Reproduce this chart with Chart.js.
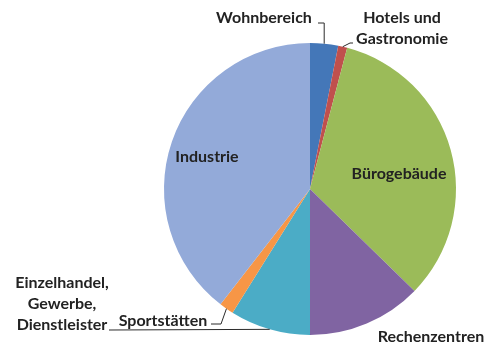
<!DOCTYPE html>
<html>
<head>
<meta charset="utf-8">
<script src="https://cdn.jsdelivr.net/npm/chart.js@4.4.1/dist/chart.umd.min.js"></script>
<style>
  html, body { margin: 0; padding: 0; background: #ffffff; }
  #wrap { width: 485px; height: 348px; }
</style>
</head>
<body>
<div id="wrap"><canvas id="pie" width="485" height="348"></canvas></div>
<script>
// Sectors, clockwise from 12 o'clock
const sectors = [
  'Wohnbereich',
  'Hotels und Gastronomie',
  'Bürogebäude',
  'Rechenzentren',
  'Einzelhandel, Gewerbe, Dienstleister',
  'Sportstätten',
  'Industrie'
];
// Share of each sector (%)
const shares = [3.1, 1.0, 33.2, 12.7, 8.9, 1.6, 39.5];

const sliceColors = ['#4477b8', '#c0504d', '#9bbb59', '#8064a2', '#4bacc6', '#f79646', '#93aad9'];

// Label placement: text lines, centre, optional leader line (start + elbow)
const labelLayout = [
  { lines: ['Wohnbereich'], x: 264, y: 18, leader: { start: [318, 23], elbow: 'x' } },
  { lines: ['Hotels und', 'Gastronomie'], x: 402, y: 18, leader: { start: [353, 43], elbow: [350, 43] } },
  { lines: ['Bürogebäude'], x: 399, y: 174 },
  { lines: ['Rechenzentren'], x: 431, y: 337 },
  { lines: ['Einzelhandel,', 'Gewerbe,', 'Dienstleister'], x: 62, y: 283, leader: { start: [109, 330], elbow: null } },
  { lines: ['Sportstätten'], x: 163, y: 321, leader: { start: [211, 324], elbow: [221, 324] } },
  { lines: ['Industrie'], x: 207, y: 157 }
];

const FONT = 'bold 16px Lato, "Open Sans", sans-serif';
const LINE_H = 21;

const sliceLabels = {
  id: 'sliceLabels',
  afterDatasetsDraw(chart) {
    const ctx = chart.ctx;
    const arcs = chart.getDatasetMeta(0).data;
    ctx.save();
    ctx.font = FONT;
    ctx.fillStyle = '#222222';
    ctx.textAlign = 'center';
    ctx.textBaseline = 'middle';
    labelLayout.forEach((lab, i) => {
      lab.lines.forEach((t, k) => ctx.fillText(t, lab.x, lab.y + k * LINE_H));
      if (!lab.leader) return;
      const a = arcs[i];
      const p = a.getProps(['x', 'y', 'startAngle', 'endAngle', 'outerRadius'], true);
      const mid = (p.startAngle + p.endAngle) / 2;
      const tx = p.x + p.outerRadius * Math.cos(mid);
      const ty = p.y + p.outerRadius * Math.sin(mid);
      const s = lab.leader.start;
      ctx.beginPath();
      ctx.strokeStyle = '#2b2b2b';
      ctx.lineWidth = 1;
      ctx.moveTo(s[0], s[1]);
      if (lab.leader.elbow === 'x') ctx.lineTo(tx, s[1]);
      else if (lab.leader.elbow) ctx.lineTo(lab.leader.elbow[0], lab.leader.elbow[1]);
      ctx.lineTo(tx, ty);
      ctx.stroke();
    });
    ctx.restore();
  }
};

new Chart(document.getElementById('pie'), {
  type: 'pie',
  data: {
    labels: sectors,
    datasets: [{
      data: shares,
      backgroundColor: sliceColors,
      borderWidth: 0
    }]
  },
  options: {
    responsive: false,
    animation: false,
    layout: { padding: { left: 164, right: 29, top: 43, bottom: 13 } },
    plugins: {
      legend: { display: false },
      tooltip: { enabled: false }
    }
  },
  plugins: [sliceLabels]
});
</script>
</body>
</html>
